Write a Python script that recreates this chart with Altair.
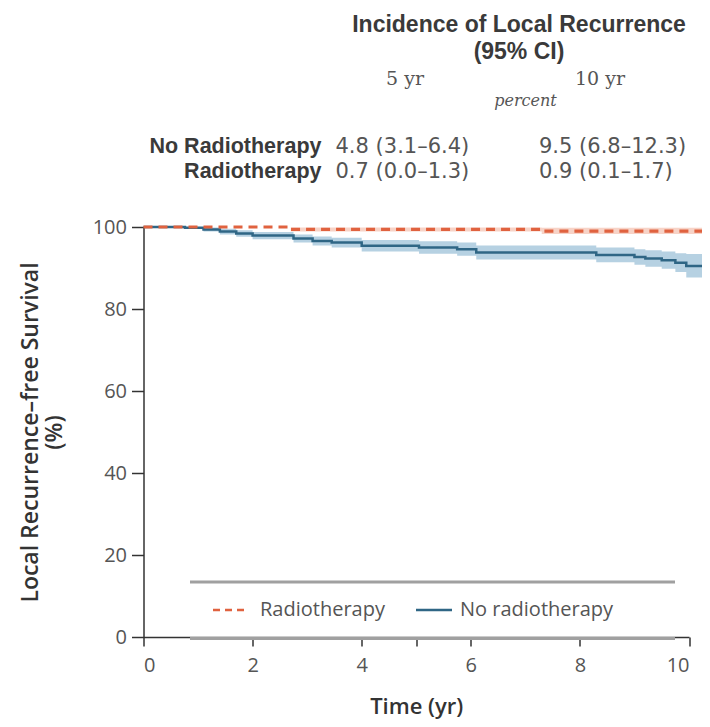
import altair as alt
import pandas as pd

# ---------------- data ----------------
groups = ["Radiotherapy", "No radiotherapy"]

years_no = [0, 0.76, 1.1, 1.4, 1.7, 2.0, 2.75, 3.1, 3.45, 4.0, 5.05, 5.75, 6.1, 8.3, 9.0, 9.2, 9.5, 9.75, 9.95, 10.3]
surv_no = [100, 99.8, 99.4, 98.9, 98.4, 97.9, 97.2, 96.6, 96.2, 95.4, 95.0, 94.6, 93.8, 93.2, 92.7, 92.3, 91.9, 91.3, 90.5, 90.5]
upper_no = [100, 100, 99.9, 99.6, 99.2, 98.8, 98.2, 97.7, 97.4, 96.8, 96.5, 96.2, 95.5, 95.0, 94.6, 94.3, 94.0, 93.6, 93.4, 93.4]
lower_no = [100, 99.5, 98.9, 98.2, 97.6, 97.0, 96.2, 95.5, 95.0, 94.0, 93.5, 93.0, 92.1, 91.4, 90.8, 90.3, 89.8, 89.0, 87.7, 87.7]

years_rt = [0, 2.7, 7.3, 10.3]
surv_rt = [100, 99.4, 99.0, 99.0]
upper_rt = [100, 99.9, 99.8, 99.8]
lower_rt = [100, 98.9, 98.3, 98.3]

x_ticks = [0, 2, 4, 5, 6, 8, 10]
y_ticks = [0, 20, 40, 60, 80, 100]

table_title = ["Incidence of Local Recurrence", "(95% CI)"]
col_headers = ["5 yr", "10 yr"]
unit_label = "percent"
row_labels = ["No Radiotherapy", "Radiotherapy"]
vals_5yr = ["4.8 (3.1\u20136.4)", "0.7 (0.0\u20131.3)"]
vals_10yr = ["9.5 (6.8\u201312.3)", "0.9 (0.1\u20131.7)"]

# ---------------- tables ----------------
df_no = pd.DataFrame({"t": years_no, "s": surv_no, "lo": lower_no, "hi": upper_no, "group": groups[1]})
df_rt = pd.DataFrame({"t": years_rt, "s": surv_rt, "lo": lower_rt, "hi": upper_rt, "group": groups[0]})
curves = pd.concat([df_no, df_rt], ignore_index=True)

W, H = 545.5, 410
SANS = "Open Sans"
TSANS = "Liberation Sans"
SERIF = "DejaVu Serif"
RED, BLUE = "#e0623f", "#2f6685"

x_scale = alt.Scale(domain=[0, 10], nice=False, zero=False)
y_scale = alt.Scale(domain=[0, 100], nice=False)
color_scale = alt.Scale(domain=groups, range=[RED, BLUE])
band_scale = alt.Scale(domain=groups, range=["#f6cbbd", "#a9c9dd"])
dash_scale = alt.Scale(domain=groups, range=[[9, 6], [1, 0]])

x_axis = alt.Axis(
    values=x_ticks, labelExpr="datum.value == 5 ? '' : datum.label",
    grid=False, tickSize=9, labelPadding=9, labelFont=SANS, labelFontSize=20,
    labelColor="#555", domainColor="#333", tickColor="#333", domainWidth=1.5, tickWidth=1.5,
    title="Time (yr)", titleFont=SANS, titleFontSize=22, titleFontWeight=600, titleColor="#333",
    titleY=76, titleBaseline="alphabetic",
)
y_axis = alt.Axis(
    values=y_ticks, grid=False, tickSize=12, labelPadding=5, labelFont=SANS, labelFontSize=20,
    labelColor="#555", domainColor="#333", tickColor="#333", domainWidth=1.5, tickWidth=1.5,
    title=["Local Recurrence\u2013free Survival", "(%)"], titleFont=SANS, titleFontSize=23,
    titleFontWeight=600, titleColor="#333", titleAngle=270, titleX=-106, titleY=H / 2,
    titleBaseline="alphabetic", titleAlign="center", titleLineHeight=24,
)

base = alt.Chart(curves)

bands = base.mark_area(interpolate="step-after", opacity=0.85).encode(
    x=alt.X("t:Q", scale=x_scale, axis=x_axis),
    y=alt.Y("lo:Q", scale=y_scale, axis=y_axis),
    y2="hi:Q",
    fill=alt.Fill("group:N", scale=band_scale, legend=None),
)

def line_layer(name, width):
    return base.transform_filter(alt.datum.group == name).mark_line(
        interpolate="step-after", strokeWidth=width
    ).encode(
        x=alt.X("t:Q", scale=x_scale),
        y=alt.Y("s:Q", scale=y_scale),
        color=alt.Color("group:N", scale=color_scale, legend=None),
        strokeDash=alt.StrokeDash("group:N", scale=dash_scale, legend=None),
    )

line_no = line_layer(groups[1], 2.5)
line_rt = line_layer(groups[0], 3.2)

# legend frame (top and bottom grey rules)
frame_df = pd.DataFrame({"edge": ["top", "bottom"]})
frame = alt.Chart(frame_df).transform_calculate(
    py="datum.edge == 'top' ? 355 : 411.5"
).mark_rule(color="#a0a0a0", strokeWidth=3).encode(
    x=alt.value(46.5), x2=alt.value(531.5), y=alt.Y("py:Q", scale=None)
)

# legend entries
one = pd.DataFrame({"k": [0]})
leg_y = 383
leg_rt_sym = alt.Chart(one).mark_rule(color=RED, strokeWidth=2.5, strokeDash=[7, 5]).encode(
    x=alt.value(69.5), x2=alt.value(105), y=alt.value(leg_y))
leg_no_sym = alt.Chart(one).mark_rule(color=BLUE, strokeWidth=2.5).encode(
    x=alt.value(272.5), x2=alt.value(308.5), y=alt.value(leg_y))

def txt(text, x, y, **kw):
    return alt.Chart(one).mark_text(text=text, **kw).encode(x=alt.value(x), y=alt.value(y))

leg_rt_txt = txt(groups[0], 116.5, leg_y, font=SANS, fontSize=20, color="#555", baseline="middle", align="left")
leg_no_txt = txt(groups[1], 316.5, leg_y, font=SANS, fontSize=20, color="#555", baseline="middle", align="left")

# table above the plot
t1 = txt(table_title[0], 375.5, -202, font=TSANS, fontSize=23, fontWeight="bold", color="#3a3a3a", baseline="middle", align="center")
t2 = txt(table_title[1], 375.5, -175, font=TSANS, fontSize=23, fontWeight="bold", color="#3a3a3a", baseline="middle", align="center")
c1 = txt(col_headers[0], 261.5, -148, font=SERIF, fontSize=19, color="#555", baseline="middle", align="center")
c2 = txt(col_headers[1], 456.5, -148, font=SERIF, fontSize=19, color="#555", baseline="middle", align="center")
u1 = txt(unit_label, 382, -126, font=SERIF, fontSize=16, fontStyle="italic", color="#555", baseline="middle", align="center")

rows_df = pd.DataFrame({"label": row_labels, "v5": vals_5yr, "v10": vals_10yr, "row": [0, 1]})
rows = alt.Chart(rows_df).transform_calculate(py="-80.5 + 25 * datum.row")
r_lab = rows.mark_text(font=TSANS, fontSize=21.5, fontWeight="bold", color="#3a3a3a", align="right", baseline="middle").encode(
    x=alt.value(178), y=alt.Y("py:Q", scale=None), text="label:N")
r_v5 = rows.mark_text(font="DejaVu Sans", fontSize=21, color="#555", align="left", baseline="middle").encode(
    x=alt.value(192), y=alt.Y("py:Q", scale=None), text="v5:N")
r_v10 = rows.mark_text(font="DejaVu Sans", fontSize=21, color="#555", align="left", baseline="middle").encode(
    x=alt.value(395.5), y=alt.Y("py:Q", scale=None), text="v10:N")

chart = alt.layer(
    bands, line_no, line_rt, frame, leg_rt_sym, leg_no_sym, leg_rt_txt, leg_no_txt,
    t1, t2, c1, c2, u1, r_lab, r_v5, r_v10
).properties(
    width=W, height=H,
    padding={"left": 135.5, "top": 219, "right": 13, "bottom": 82},
    autosize=alt.AutoSizeParams(type="none"),
).configure_view(stroke=None)

chart.save("out.html", embed_options={"renderer": "svg", "actions": False})
